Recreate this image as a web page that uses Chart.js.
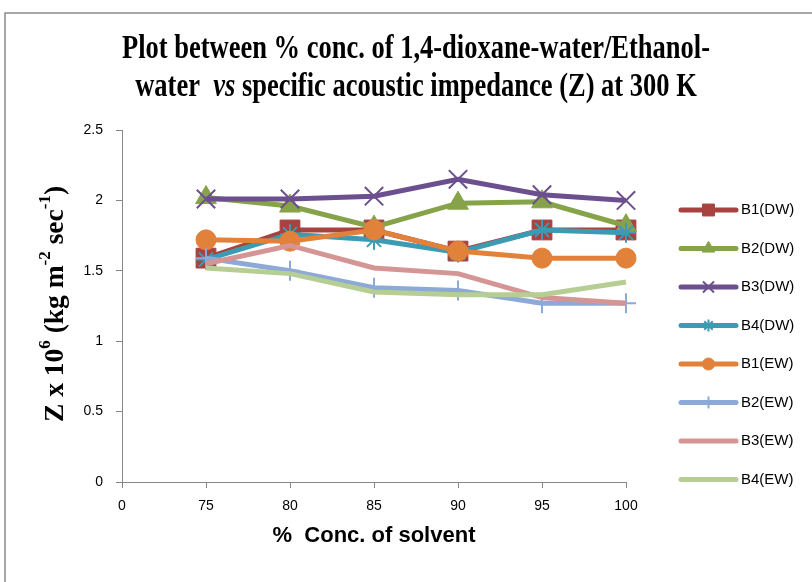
<!DOCTYPE html>
<html>
<head>
<meta charset="utf-8">
<script src="https://cdn.jsdelivr.net/npm/chart.js@4.4.0/dist/chart.umd.min.js"></script>
<style>
    html, body { margin: 0; padding: 0; background: #fff; }
    #wrap { position: relative; width: 812px; height: 582px; overflow: hidden; }
</style>
</head>
<body>
<div id="wrap"><canvas id="zChart" width="812" height="582"></canvas></div>
<script>
// 데이터
const categories = ['0', '75', '80', '85', '90', '95', '100'];
const yTicks = [0, 0.5, 1, 1.5, 2, 2.5];

const b1DW = [null, 1.59, 1.79, 1.79, 1.64, 1.79, 1.79];
const b2DW = [null, 2.02, 1.96, 1.81, 1.98, 1.99, 1.82];
const b3DW = [null, 2.01, 2.01, 2.03, 2.15, 2.04, 2.00];
const b4DW = [null, 1.58, 1.76, 1.72, 1.63, 1.79, 1.77];
const b1EW = [null, 1.72, 1.71, 1.79, 1.64, 1.59, 1.59];
const b2EW = [null, 1.59, 1.50, 1.38, 1.36, 1.27, 1.27];
const b3EW = [null, 1.55, 1.68, 1.52, 1.48, 1.31, 1.27];
const b4EW = [null, 1.52, 1.48, 1.35, 1.33, 1.33, 1.42];

const seriesLabels = ['B1(DW)', 'B2(DW)', 'B3(DW)', 'B4(DW)', 'B1(EW)', 'B2(EW)', 'B3(EW)', 'B4(EW)'];
const seriesData = [b1DW, b2DW, b3DW, b4DW, b1EW, b2EW, b3EW, b4EW];
const seriesColors = ['#A7423F', '#87A34A', '#6C4F8E', '#3C9BB3', '#E2823A', '#8DA9D8', '#D49594', '#B6CE93'];
const seriesMarkers = ['rect', 'triangle', 'crossRot', 'star', 'circle', 'cross', false, false];
const markerRadius = [14, 12, 13, 10, 10, 10, 0, 0];

const sansFont = "'Liberation Sans', Arial, sans-serif";
const serifFont = "'Liberation Serif', 'Times New Roman', serif";
const axisColor = '#868686';

// 데이터셋 구성
const datasets = seriesLabels.map((label, i) => ({
    label: label,
    data: seriesData[i],
    borderColor: seriesColors[i],
    backgroundColor: seriesColors[i],
    borderWidth: 5,
    tension: 0,
    pointStyle: seriesMarkers[i] || 'circle',
    pointRadius: seriesMarkers[i] ? markerRadius[i] : 0,
    pointBorderWidth: (seriesMarkers[i] === 'crossRot' || seriesMarkers[i] === 'star' || seriesMarkers[i] === 'cross') ? 2 : 1,
    order: seriesLabels.length - i // 뒤쪽 계열이 위에 그려지도록
}));

// 제목, 축 제목, 범례, 테두리 그리기
const decorPlugin = {
    id: 'decor',
    beforeDraw(chart) {
        const ctx = chart.ctx;
        ctx.save();
        ctx.fillStyle = '#fff';
        ctx.fillRect(0, 0, chart.width, chart.height);
        ctx.strokeStyle = '#8c8c8c';
        ctx.lineWidth = 1.5;
        ctx.strokeRect(5, 13, chart.width + 20, chart.height + 20);
        ctx.restore();
    },
    afterDraw(chart) {
        const ctx = chart.ctx;
        drawTitle(ctx);
        drawYTitle(ctx, 56, 304);
        drawLegend(ctx);
    }
};

function drawTitle(ctx) {
    const size = 26.5;
    const stretch = 1.25;
    const cx = 416;
    ctx.save();
    ctx.fillStyle = '#000';
    ctx.textBaseline = 'alphabetic';
    ctx.textAlign = 'left';

    // 1행
    ctx.font = `bold ${size}px ${serifFont}`;
    const line1 = 'Plot between % conc. of 1,4-dioxane-water/Ethanol-';
    let w = ctx.measureText(line1).width;
    ctx.save();
    ctx.translate(cx - w / 2, 58);
    ctx.scale(1, stretch);
    ctx.fillText(line1, 0, 0);
    ctx.restore();

    // 2행 (vs 는 기울임꼴)
    const parts = [
        { t: 'water  ', f: `bold ${size}px ${serifFont}` },
        { t: 'vs', f: `italic bold ${size}px ${serifFont}` },
        { t: ' specific acoustic impedance (Z) at 300 K', f: `bold ${size}px ${serifFont}` }
    ];
    w = 0;
    parts.forEach(p => { ctx.font = p.f; w += ctx.measureText(p.t).width; });
    ctx.save();
    ctx.translate(cx - w / 2, 96);
    ctx.scale(1, stretch);
    let x = 0;
    parts.forEach(p => {
        ctx.font = p.f;
        ctx.fillText(p.t, x, 0);
        x += ctx.measureText(p.t).width;
    });
    ctx.restore();
    ctx.restore();
}

function drawYTitle(ctx, cx, cy) {
    const big = `bold 27.5px ${serifFont}`;
    const small = `bold 17px ${serifFont}`;
    const parts = [
        { t: 'Z x 10', f: big, up: 0 },
        { t: '6', f: small, up: 10 },
        { t: ' (kg m', f: big, up: 0 },
        { t: '-2', f: small, up: 10 },
        { t: ' sec', f: big, up: 0 },
        { t: '-1', f: small, up: 10 },
        { t: ')', f: big, up: 0 }
    ];
    ctx.save();
    ctx.fillStyle = '#000';
    ctx.textBaseline = 'middle';
    ctx.textAlign = 'left';
    let w = 0;
    parts.forEach(p => { ctx.font = p.f; w += ctx.measureText(p.t).width; });
    ctx.translate(cx, cy);
    ctx.rotate(-Math.PI / 2);
    let x = -w / 2;
    parts.forEach(p => {
        ctx.font = p.f;
        ctx.fillText(p.t, x, -p.up);
        x += ctx.measureText(p.t).width;
    });
    ctx.restore();
}

function drawLegend(ctx) {
    const x0 = 681, x1 = 736, textX = 741;
    ctx.save();
    seriesLabels.forEach((label, i) => {
        const y = 210 + i * 38.5;
        ctx.strokeStyle = seriesColors[i];
        ctx.fillStyle = seriesColors[i];
        ctx.lineWidth = 5;
        ctx.lineCap = 'round';
        ctx.beginPath();
        ctx.moveTo(x0, y);
        ctx.lineTo(x1, y);
        ctx.stroke();
        if (seriesMarkers[i]) {
            const bw = datasets[i].pointBorderWidth;
            ctx.lineWidth = bw;
            ctx.lineCap = 'butt';
            Chart.helpers.drawPoint(ctx, {
                pointStyle: seriesMarkers[i],
                radius: markerRadius[i] * 0.6,
                rotation: 0,
                borderWidth: bw
            }, (x0 + x1) / 2, y);
        }
        ctx.fillStyle = '#000';
        ctx.font = `15px ${sansFont}`;
        ctx.textBaseline = 'middle';
        ctx.textAlign = 'left';
        ctx.fillText(label, textX, y);
    });
    ctx.restore();
}

const ctx = document.getElementById('zChart').getContext('2d');
const zChart = new Chart(ctx, {
    type: 'line',
    data: { labels: categories, datasets: datasets },
    options: {
        responsive: false,
        animation: false,
        layout: { padding: { top: 130, right: 186, left: 0, bottom: 0 } },
        plugins: {
            legend: { display: false },
            title: { display: false },
            tooltip: { enabled: false }
        },
        scales: {
            x: {
                type: 'category',
                offset: false,
                grid: { drawOnChartArea: false, drawTicks: true, tickLength: 6, color: axisColor },
                border: { color: axisColor, width: 1 },
                ticks: { font: { family: sansFont, size: 14 }, color: '#000', padding: 10, maxRotation: 0, autoSkip: false },
                title: {
                    display: true,
                    text: '%  Conc. of solvent',
                    color: '#000',
                    font: { family: sansFont, size: 22, weight: 'bold' },
                    padding: { top: 0, bottom: 33 }
                },
                afterFit: scale => { scale.height = 100; }
            },
            y: {
                min: 0,
                max: 2.5,
                afterBuildTicks: scale => { scale.ticks = yTicks.map(v => ({ value: v })); },
                grid: { drawOnChartArea: false, drawTicks: true, tickLength: 6, color: axisColor },
                border: { color: axisColor, width: 1 },
                ticks: {
                    font: { family: sansFont, size: 14 },
                    color: '#000',
                    padding: 13,
                    callback: value => String(value) // 2, 1 처럼 소수점 없이 표시
                },
                afterFit: scale => { scale.width = 122; }
            }
        }
    },
    plugins: [decorPlugin]
});
</script>
</body>
</html>
